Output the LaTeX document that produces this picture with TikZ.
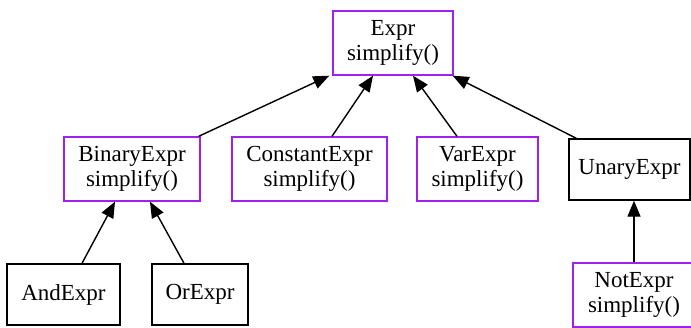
\documentclass[tikz,border=0pt]{standalone}
\usepackage{fontspec}
\setmainfont{Liberation Serif}
\usetikzlibrary{arrows.meta}
\definecolor{gvpurple}{HTML}{A020F0}
\tikzset{
  cls/.style={draw=black, line width=1.4pt, inner sep=0pt, align=center,
    font=\fontsize{23}{25}\selectfont},
  meth/.style={cls, draw=gvpurple},
  inh/.style={draw=black, line width=1.4pt, -{Triangle[length=16pt,width=13pt]}}
}
\begin{document}
\begin{tikzpicture}[x=1pt,y=-1pt]
\useasboundingbox (0,0) rectangle (691,327);
\clip (0,0) rectangle (691,327);
\node[meth, minimum width=120pt, minimum height=64pt] (Expr) at (393,43) {Expr\\simplify()};
\node[meth, minimum width=136pt, minimum height=64pt] (BinaryExpr) at (132,169) {BinaryExpr\\simplify()};
\node[meth, minimum width=155pt, minimum height=64pt] (ConstantExpr) at (309.5,169) {ConstantExpr\\simplify()};
\node[meth, minimum width=121pt, minimum height=64pt] (VarExpr) at (477.5,169) {VarExpr\\simplify()};
\node[cls, minimum width=121pt, minimum height=61pt] (UnaryExpr) at (629.5,169.5) {UnaryExpr};
\node[cls, minimum width=113pt, minimum height=61pt] (AndExpr) at (63.5,294.5) {AndExpr};
\node[cls, minimum width=96pt, minimum height=61pt] (OrExpr) at (200,294.5) {OrExpr};
\node[meth, minimum width=122pt, minimum height=64pt] (NotExpr) at (634,295) {NotExpr\\simplify()};
\draw[inh] ([xshift=-2pt]BinaryExpr.north east) -- ([xshift=-3pt]Expr.south west);
\draw[inh] ([xshift=22.5pt]ConstantExpr.north) -- ([xshift=-20pt]Expr.south);
\draw[inh] ([xshift=-20.5pt]VarExpr.north) -- ([xshift=20pt]Expr.south);
\draw[inh] ([xshift=8pt]UnaryExpr.north west) -- ([xshift=-1pt]Expr.south east);
\draw[inh] ([xshift=18.5pt]AndExpr.north) -- ([xshift=-17pt]BinaryExpr.south);
\draw[inh] ([xshift=-16pt]OrExpr.north) -- ([xshift=18pt]BinaryExpr.south);
\draw[inh] (NotExpr.north) -- (NotExpr.north |- UnaryExpr.south);
\end{tikzpicture}
\end{document}
